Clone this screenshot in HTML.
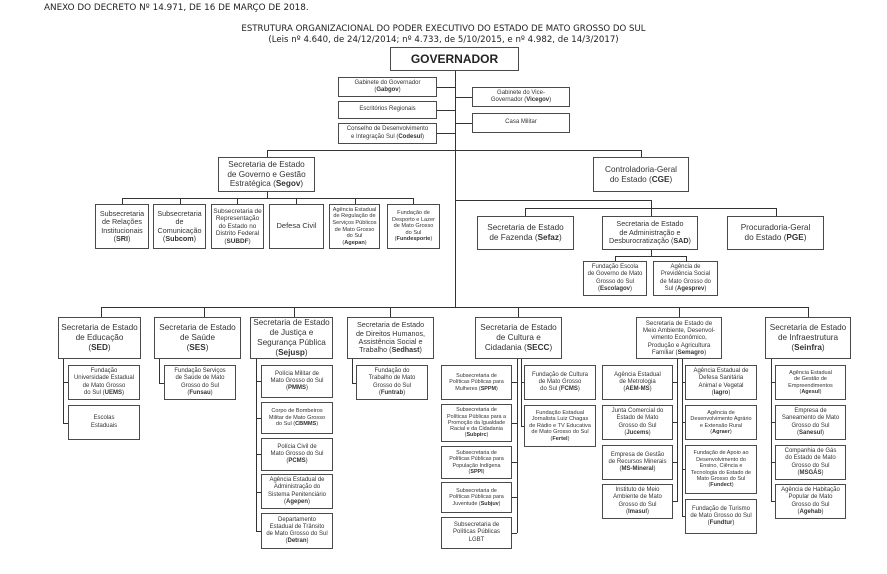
<!DOCTYPE html>
<html><head><meta charset="utf-8"><style>
body{margin:0;background:#fff;width:887px;height:574px;position:relative;overflow:hidden;font-family:"Liberation Sans",sans-serif;color:#333}
.b{position:absolute;border:1px solid #4a4a4a;display:flex;align-items:center;justify-content:center;text-align:center;box-sizing:border-box;line-height:1.17;font-size:6px;padding:0 1px;background:#fff}
.b>span{display:block}
.m{font-size:8.2px!important;line-height:1.2;padding:0;white-space:nowrap}
.h{position:absolute;height:1px;background:#333}
.v{position:absolute;width:1px;background:#333}
.t{position:absolute;font-family:"DejaVu Sans",sans-serif;font-size:8.8px;color:#222;white-space:nowrap}
</style></head><body>
<div class="t" style="left:44px;top:3px">ANEXO DO DECRETO Nº 14.971, DE 16 DE MARÇO DE 2018.</div>
<div class="t" style="left:0;width:887px;text-align:center;top:24px;font-size:8.6px">ESTRUTURA ORGANIZACIONAL DO PODER EXECUTIVO DO ESTADO DE MATO GROSSO DO SUL</div>
<div class="t" style="left:0;width:887px;text-align:center;top:35px;font-size:8.6px">(Leis nº 4.640, de 24/12/2014; nº 4.733, de 5/10/2015, e nº 4.982, de 14/3/2017)</div>

<div class="v" style="left:455px;top:70px;height:237px"></div>
<div class="h" style="left:437px;top:87px;width:18px"></div>
<div class="h" style="left:437px;top:110px;width:18px"></div>
<div class="h" style="left:437px;top:133px;width:18px"></div>
<div class="h" style="left:455px;top:97px;width:17px"></div>
<div class="h" style="left:455px;top:123px;width:17px"></div>
<div class="h" style="left:267px;top:150px;width:374px"></div>
<div class="v" style="left:267px;top:150px;height:7px"></div>
<div class="v" style="left:641px;top:150px;height:7px"></div>
<div class="v" style="left:267px;top:191px;height:7px"></div>
<div class="h" style="left:122px;top:198px;width:291px"></div>
<div class="v" style="left:122px;top:198px;height:6px"></div>
<div class="v" style="left:180px;top:198px;height:6px"></div>
<div class="v" style="left:237px;top:198px;height:6px"></div>
<div class="v" style="left:296px;top:198px;height:6px"></div>
<div class="v" style="left:355px;top:198px;height:6px"></div>
<div class="v" style="left:413px;top:198px;height:6px"></div>
<div class="h" style="left:455px;top:200px;width:196px"></div>
<div class="v" style="left:651px;top:200px;height:16px"></div>
<div class="h" style="left:525px;top:208px;width:251px"></div>
<div class="v" style="left:525px;top:208px;height:8px"></div>
<div class="v" style="left:776px;top:208px;height:8px"></div>
<div class="v" style="left:651px;top:250px;height:6px"></div>
<div class="h" style="left:615px;top:256px;width:71px"></div>
<div class="v" style="left:615px;top:256px;height:5px"></div>
<div class="v" style="left:686px;top:256px;height:5px"></div>
<div class="h" style="left:101px;top:307px;width:707px"></div>
<div class="v" style="left:101px;top:307px;height:10px"></div>
<div class="v" style="left:204px;top:307px;height:10px"></div>
<div class="v" style="left:294px;top:307px;height:10px"></div>
<div class="v" style="left:390px;top:307px;height:10px"></div>
<div class="v" style="left:518px;top:307px;height:10px"></div>
<div class="v" style="left:679px;top:307px;height:10px"></div>
<div class="v" style="left:808px;top:307px;height:10px"></div>
<div class="v" style="left:63px;top:359px;height:64px"></div>
<div class="h" style="left:63px;top:382px;width:5px"></div>
<div class="h" style="left:63px;top:423px;width:5px"></div>
<div class="v" style="left:159px;top:359px;height:24px"></div>
<div class="h" style="left:159px;top:383px;width:5px"></div>
<div class="v" style="left:256px;top:359px;height:172px"></div>
<div class="h" style="left:256px;top:381px;width:5px"></div>
<div class="h" style="left:256px;top:418px;width:5px"></div>
<div class="h" style="left:256px;top:454px;width:5px"></div>
<div class="h" style="left:256px;top:492px;width:5px"></div>
<div class="h" style="left:256px;top:531px;width:5px"></div>
<div class="v" style="left:352px;top:359px;height:24px"></div>
<div class="h" style="left:352px;top:383px;width:4px"></div>
<div class="v" style="left:517px;top:359px;height:174px"></div>
<div class="v" style="left:521px;top:359px;height:67px"></div>
<div class="h" style="left:512px;top:382px;width:5px"></div>
<div class="h" style="left:512px;top:423px;width:5px"></div>
<div class="h" style="left:512px;top:462px;width:5px"></div>
<div class="h" style="left:512px;top:497px;width:5px"></div>
<div class="h" style="left:512px;top:533px;width:5px"></div>
<div class="h" style="left:521px;top:382px;width:3px"></div>
<div class="h" style="left:521px;top:426px;width:3px"></div>
<div class="v" style="left:677px;top:359px;height:143px"></div>
<div class="v" style="left:682px;top:359px;height:158px"></div>
<div class="h" style="left:673px;top:382px;width:4px"></div>
<div class="h" style="left:673px;top:422px;width:4px"></div>
<div class="h" style="left:673px;top:462px;width:4px"></div>
<div class="h" style="left:673px;top:501px;width:4px"></div>
<div class="h" style="left:682px;top:382px;width:3px"></div>
<div class="h" style="left:682px;top:422px;width:3px"></div>
<div class="h" style="left:682px;top:469px;width:3px"></div>
<div class="h" style="left:682px;top:516px;width:3px"></div>
<div class="v" style="left:771px;top:359px;height:143px"></div>
<div class="h" style="left:771px;top:382px;width:4px"></div>
<div class="h" style="left:771px;top:422px;width:4px"></div>
<div class="h" style="left:771px;top:462px;width:4px"></div>
<div class="h" style="left:771px;top:501px;width:4px"></div>

<div class="b" style="left:390px;top:47px;width:129px;height:24px;font-size:12px;font-weight:bold;color:#222"><span>GOVERNADOR</span></div>
<div class="b" style="left:338px;top:77px;width:99px;height:20px"><span>Gabinete do Governador<br>(<b>Gabgov</b>)</span></div>
<div class="b" style="left:338px;top:101px;width:99px;height:18px"><span>Escritórios Regionais</span></div>
<div class="b" style="left:338px;top:123px;width:99px;height:21px"><span>Conselho de Desenvolvimento<br>e Integração Sul (<b>Codesul</b>)</span></div>
<div class="b" style="left:472px;top:87px;width:98px;height:20px"><span>Gabinete do Vice-<br>Governador (<b>Vicegov</b>)</span></div>
<div class="b" style="left:472px;top:113px;width:98px;height:20px"><span>Casa Militar</span></div>

<div class="b m" style="left:218px;top:157px;width:97px;height:35px"><span>Secretaria de Estado<br>de Governo e Gestão<br>Estratégica (<b>Segov</b>)</span></div>
<div class="b m" style="left:593px;top:157px;width:96px;height:35px"><span>Controladoria-Geral<br>do Estado (<b>CGE</b>)</span></div>

<div class="b" style="left:95px;top:204px;width:54px;height:45px;font-size:7.2px"><span>Subsecretaria<br>de Relações<br>Institucionais<br>(<b>SRI</b>)</span></div>
<div class="b" style="left:153px;top:204px;width:53px;height:45px;font-size:7.2px"><span>Subsecretaria<br>de<br>Comunicação<br>(<b>Subcom</b>)</span></div>
<div class="b" style="left:211px;top:204px;width:53px;height:45px;font-size:6.4px"><span>Subsecretaria de<br>Representação<br>do Estado no<br>Distrito Federal<br>(<b>SUBDF</b>)</span></div>
<div class="b" style="left:269px;top:204px;width:55px;height:45px;font-size:7.5px"><span>Defesa Civil</span></div>
<div class="b" style="left:329px;top:204px;width:51px;height:45px;font-size:5.6px"><span>Agência Estadual<br>de Regulação de<br>Serviços Públicos<br>de Mato Grosso<br>do Sul<br>(<b>Agepan</b>)</span></div>
<div class="b" style="left:387px;top:204px;width:53px;height:45px;font-size:5.6px"><span>Fundação de<br>Desporto e Lazer<br>de Mato Grosso<br>do Sul<br>(<b>Fundesporte</b>)</span></div>

<div class="b m" style="left:477px;top:216px;width:97px;height:34px"><span>Secretaria de Estado<br>de Fazenda (<b>Sefaz</b>)</span></div>
<div class="b" style="left:602px;top:216px;width:96px;height:34px;font-size:7.2px"><span>Secretaria de Estado<br>de Administração e<br>Desburocratização (<b>SAD</b>)</span></div>
<div class="b m" style="left:727px;top:216px;width:97px;height:34px"><span>Procuradoria-Geral<br>do Estado (<b>PGE</b>)</span></div>
<div class="b" style="left:583px;top:261px;width:64px;height:35px"><span>Fundação Escola<br>de Governo de Mato<br>Grosso do Sul<br>(<b>Escolagov</b>)</span></div>
<div class="b" style="left:653px;top:261px;width:65px;height:35px"><span>Agência de<br>Previdência Social<br>de Mato Grosso do<br>Sul (<b>Agesprev</b>)</span></div>

<div class="b m" style="left:58px;top:317px;width:83px;height:42px"><span>Secretaria de Estado<br>de Educação<br>(<b>SED</b>)</span></div>
<div class="b m" style="left:154px;top:317px;width:87px;height:42px"><span>Secretaria de Estado<br>de Saúde<br>(<b>SES</b>)</span></div>
<div class="b m" style="left:250px;top:317px;width:83px;height:42px"><span>Secretaria de Estado<br>de Justiça e<br>Segurança Pública<br>(<b>Sejusp</b>)</span></div>
<div class="b" style="left:347px;top:317px;width:87px;height:42px;font-size:7.2px"><span>Secretaria de Estado<br>de Direitos Humanos,<br>Assistência Social e<br>Trabalho (<b>Sedhast</b>)</span></div>
<div class="b m" style="left:475px;top:317px;width:87px;height:42px"><span>Secretaria de Estado<br>de Cultura e<br>Cidadania (<b>SECC</b>)</span></div>
<div class="b" style="left:636px;top:317px;width:86px;height:42px;font-size:6.2px"><span>Secretaria de Estado de<br>Meio Ambiente, Desenvol-<br>vimento Econômico,<br>Produção e Agricultura<br>Familiar (<b>Semagro</b>)</span></div>
<div class="b m" style="left:765px;top:317px;width:86px;height:42px"><span>Secretaria de Estado<br>de Infraestrutura<br>(<b>Seinfra</b>)</span></div>

<div class="b" style="left:68px;top:365px;width:72px;height:35px"><span>Fundação<br>Universidade Estadual<br>de Mato Grosso<br>do Sul (<b>UEMS</b>)</span></div>
<div class="b" style="left:68px;top:405px;width:72px;height:35px"><span>Escolas<br>Estaduais</span></div>
<div class="b" style="left:164px;top:365px;width:72px;height:35px"><span>Fundação Serviços<br>de Saúde de Mato<br>Grosso do Sul<br>(<b>Funsau</b>)</span></div>

<div class="b" style="left:261px;top:365px;width:72px;height:33px"><span>Polícia Militar de<br>Mato Grosso do Sul<br>(<b>PMMS</b>)</span></div>
<div class="b" style="left:261px;top:402px;width:72px;height:32px;font-size:5.6px"><span>Corpo de Bombeiros<br>Militar de Mato Grosso<br>do Sul (<b>CBMMS</b>)</span></div>
<div class="b" style="left:261px;top:438px;width:72px;height:33px"><span>Polícia Civil de<br>Mato Grosso do Sul<br>(<b>PCMS</b>)</span></div>
<div class="b" style="left:261px;top:474px;width:72px;height:35px"><span>Agência Estadual de<br>Administração do<br>Sistema Penitenciário<br>(<b>Agepen</b>)</span></div>
<div class="b" style="left:261px;top:513px;width:72px;height:36px"><span>Departamento<br>Estadual de Trânsito<br>de Mato Grosso do Sul<br>(<b>Detran</b>)</span></div>

<div class="b" style="left:356px;top:365px;width:72px;height:35px"><span>Fundação do<br>Trabalho de Mato<br>Grosso do Sul<br>(<b>Funtrab</b>)</span></div>

<div class="b" style="left:441px;top:365px;width:71px;height:35px;font-size:5.4px"><span>Subsecretaria de<br>Políticas Públicas para<br>Mulheres (<b>SPPM</b>)</span></div>
<div class="b" style="left:441px;top:404px;width:71px;height:38px;font-size:5.4px"><span>Subsecretaria de<br>Políticas Públicas para a<br>Promoção da Igualdade<br>Racial e da Cidadania<br>(<b>Subpirc</b>)</span></div>
<div class="b" style="left:441px;top:446px;width:71px;height:33px;font-size:5.4px"><span>Subsecretaria de<br>Políticas Públicas para<br>População Indígena<br>(<b>SPPI</b>)</span></div>
<div class="b" style="left:441px;top:482px;width:71px;height:31px;font-size:5.4px"><span>Subsecretaria de<br>Políticas Públicas para<br>Juventude (<b>Subjuv</b>)</span></div>
<div class="b" style="left:441px;top:517px;width:71px;height:32px"><span>Subsecretaria de<br>Políticas Públicas<br>LGBT</span></div>
<div class="b" style="left:524px;top:365px;width:72px;height:35px"><span>Fundação de Cultura<br>de Mato Grosso<br>do Sul (<b>FCMS</b>)</span></div>
<div class="b" style="left:524px;top:405px;width:72px;height:42px;font-size:5.6px"><span>Fundação Estadual<br>Jornalista Luiz Chagas<br>de Rádio e TV Educativa<br>de Mato Grosso do Sul<br>(<b>Fertel</b>)</span></div>

<div class="b" style="left:602px;top:365px;width:71px;height:35px"><span>Agência Estadual<br>de Metrologia<br>(<b>AEM-MS</b>)</span></div>
<div class="b" style="left:602px;top:405px;width:71px;height:35px"><span>Junta Comercial do<br>Estado de Mato<br>Grosso do Sul<br>(<b>Jucems</b>)</span></div>
<div class="b" style="left:602px;top:445px;width:71px;height:35px"><span>Empresa de Gestão<br>de Recursos Minerais<br>(<b>MS-Mineral</b>)</span></div>
<div class="b" style="left:602px;top:484px;width:71px;height:35px"><span>Instituto de Meio<br>Ambiente de Mato<br>Grosso do Sul<br>(<b>Imasul</b>)</span></div>
<div class="b" style="left:685px;top:365px;width:72px;height:35px"><span>Agência Estadual de<br>Defesa Sanitária<br>Animal e Vegetal<br>(<b>Iagro</b>)</span></div>
<div class="b" style="left:685px;top:405px;width:72px;height:35px;font-size:5.5px"><span>Agência de<br>Desenvolvimento Agrário<br>e Extensão Rural<br>(<b>Agraer</b>)</span></div>
<div class="b" style="left:685px;top:445px;width:72px;height:49px;font-size:5.5px"><span>Fundação de Apoio ao<br>Desenvolvimento do<br>Ensino, Ciência e<br>Tecnologia do Estado de<br>Mato Grosso do Sul<br>(<b>Fundect</b>)</span></div>
<div class="b" style="left:685px;top:499px;width:72px;height:35px"><span>Fundação de Turismo<br>de Mato Grosso do Sul<br>(<b>Fundtur</b>)</span></div>

<div class="b" style="left:775px;top:365px;width:71px;height:35px;font-size:5.5px"><span>Agência Estadual<br>de Gestão de<br>Empreendimentos<br>(<b>Agesul</b>)</span></div>
<div class="b" style="left:775px;top:405px;width:71px;height:35px"><span>Empresa de<br>Saneamento de Mato<br>Grosso do Sul<br>(<b>Sanesul</b>)</span></div>
<div class="b" style="left:775px;top:445px;width:71px;height:35px"><span>Companhia de Gás<br>do Estado de Mato<br>Grosso do Sul<br>(<b>MSGÁS</b>)</span></div>
<div class="b" style="left:775px;top:484px;width:71px;height:35px"><span>Agência de Habitação<br>Popular de Mato<br>Grosso do Sul<br>(<b>Agehab</b>)</span></div>
</body></html>
